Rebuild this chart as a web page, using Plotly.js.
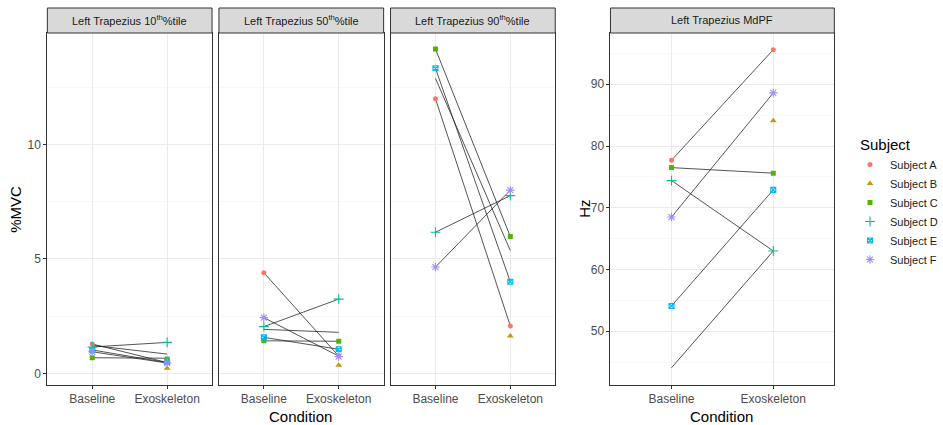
<!DOCTYPE html>
<html>
<head>
<meta charset="utf-8">
<script src="https://cdn.plot.ly/plotly-3.0.1.min.js"></script>
<style>html,body{margin:0;padding:0;background:#fff;}#chart{width:943px;height:425px;}</style>
</head>
<body>
<div id="chart"></div>
<script>
// ---------------- data ----------------
const conditions = ['Baseline', 'Exoskeleton'];
const subjects = ['Subject A', 'Subject B', 'Subject C', 'Subject D', 'Subject E', 'Subject F'];
const panelTitles = ['Left Trapezius 10<sup>th</sup>%tile', 'Left Trapezius 50<sup>th</sup>%tile',
                     'Left Trapezius 90<sup>th</sup>%tile', 'Left Trapezius MdPF'];

// point values per subject (null = no point drawn)
const p10Base = [1.28, null, 0.68, 1.15, 1.02, 0.94];
const p10Exo  = [0.47, 0.22, 0.62, 1.35, 0.50, 0.45];
const p50Base = [4.39, null, 1.42, 2.04, 1.57, 2.43];
const p50Exo  = [0.78, 0.35, 1.40, 3.24, 1.05, 0.73];
const p90Base = [11.99, null, 14.16, 6.16, 13.32, 4.64];
const p90Exo  = [2.07, 1.63, 5.97, 7.76, 4.00, 8.00];
const mdpfBase = [77.7, null, 76.5, 74.4, 54.1, 68.5];
const mdpfExo  = [95.6, 84.1, 75.6, 63.0, 72.9, 88.6];

// connecting line end values (as drawn in the figure)
const p10LineBase = [1.28, 1.22, 0.68, 1.15, 1.02, 0.94];
const p10LineExo  = [0.47, 0.84, 0.66, 1.35, 0.47, 0.45];
const p50LineBase = [4.39, 1.92, 1.42, 2.04, 1.57, 2.43];
const p50LineExo  = [0.75, 1.79, 1.40, 3.24, 1.05, 0.75];
const p90LineBase = [11.99, 12.88, 14.16, 6.16, 13.32, 4.64];
const p90LineExo  = [2.07, 5.36, 5.97, 7.76, 4.00, 8.00];
const mdpfLineBase = [77.7, 44.1, 76.5, 74.4, 54.1, 68.5];
const mdpfLineExo  = [95.6, 63.0, 75.6, 63.0, 72.9, 88.6];

// ---------------- styles ----------------
const colors = ['#F8766D', '#C49A00', '#53B400', '#00C094', '#00B6EB', '#A58AFF'];
const symbols = ['circle', 'triangle-up', 'square', 'cross-thin-open', 'square-x-open', 'asterisk-open'];
const sizes = [5, 6, 5, 7, 5, 7];

const panels = [
  {base: p10Base, exo: p10Exo, lb: p10LineBase, le: p10LineExo, xa: 'x', ya: 'y'},
  {base: p50Base, exo: p50Exo, lb: p50LineBase, le: p50LineExo, xa: 'x2', ya: 'y2'},
  {base: p90Base, exo: p90Exo, lb: p90LineBase, le: p90LineExo, xa: 'x3', ya: 'y3'},
  {base: mdpfBase, exo: mdpfExo, lb: mdpfLineBase, le: mdpfLineExo, xa: 'x4', ya: 'y4'}
];

const W = 943, H = 425;
const px = v => v / W;
const py = v => 1 - v / H;
const xDom = [[48, 215], [222, 389], [396, 563], [619, 846]];
const plotTop = 33, plotBot = 385, stripTop = 8;

const traces = [];
panels.forEach((p, pi) => {
  p.lb.forEach((b, i) => {
    traces.push({
      x: conditions, y: [b, p.le[i]], xaxis: p.xa, yaxis: p.ya,
      mode: 'lines', line: {color: 'rgba(30,30,30,0.85)', width: 0.9},
      showlegend: false, hoverinfo: 'skip'
    });
  });
});
panels.forEach((p, pi) => {
  subjects.forEach((s, i) => {
    const isOpen = symbols[i].indexOf('open') >= 0;
    traces.push({
      x: conditions, y: [p.base[i], p.exo[i]], xaxis: p.xa, yaxis: p.ya,
      mode: 'markers', name: s, legendgroup: s, showlegend: pi === 0,
      marker: {color: colors[i], symbol: symbols[i], size: sizes[i],
               line: {color: colors[i], width: isOpen ? 1.1 : 0}}
    });
  });
});

const gridC = '#EBEBEB';
function xaxis(i) {
  return {
    domain: [px(xDom[i][0]), px(xDom[i][1])], anchor: i === 0 ? 'y' : 'y' + (i + 1),
    type: 'category', categoryorder: 'array', categoryarray: conditions,
    range: [-0.6, 1.6], showgrid: true, gridcolor: gridC, gridwidth: 1,
    showline: true, mirror: true, linecolor: '#333333', linewidth: 1,
    ticks: 'outside', ticklen: 3, tickcolor: '#333333',
    tickfont: {family: 'Liberation Sans, Arial, sans-serif', size: 12, color: '#4D4D4D'},
    zeroline: false, fixedrange: true
  };
}
function yaxis(i, showLabels) {
  const left = i < 3;
  return {
    domain: [py(plotBot), py(plotTop)], anchor: i === 0 ? 'x' : 'x' + (i + 1),
    range: left ? [-0.51, 14.86] : [41.3, 98.3],
    tickmode: 'linear', tick0: 0, dtick: left ? 5 : 10,
    minor: {dtick: left ? 2.5 : 5, tick0: 0, showgrid: true, gridcolor: '#F4F4F4', gridwidth: 0.6, ticks: ''},
    showgrid: true, gridcolor: gridC, gridwidth: 1,
    showline: true, mirror: true, linecolor: '#333333', linewidth: 1,
    ticks: showLabels ? 'outside' : '', ticklen: 3, tickcolor: '#333333',
    showticklabels: showLabels,
    tickfont: {family: 'Liberation Sans, Arial, sans-serif', size: 12, color: '#4D4D4D'},
    zeroline: false, fixedrange: true
  };
}

const shapes = [];
const annotations = [];
xDom.forEach((d, i) => {
  shapes.push({type: 'rect', xref: 'paper', yref: 'paper',
    x0: px(d[0]), x1: px(d[1]), y0: py(plotTop), y1: py(stripTop),
    fillcolor: '#D9D9D9', line: {color: '#333333', width: 1}});
  annotations.push({xref: 'paper', yref: 'paper', x: px((d[0] + d[1]) / 2), y: py((plotTop + stripTop) / 2),
    xanchor: 'center', yanchor: 'middle', showarrow: false, text: panelTitles[i],
    font: {family: 'Liberation Sans, Arial, sans-serif', size: 11, color: '#1A1A1A'}});
});
const titleFont = {family: 'Liberation Sans, Arial, sans-serif', size: 15, color: '#000000'};
annotations.push({xref: 'paper', yref: 'paper', x: px(305), y: py(416), showarrow: false,
  text: 'Condition', font: titleFont, xanchor: 'center', yanchor: 'middle'});
annotations.push({xref: 'paper', yref: 'paper', x: px(732), y: py(416), showarrow: false,
  text: 'Condition', font: titleFont, xanchor: 'center', yanchor: 'middle'});
annotations.push({xref: 'paper', yref: 'paper', x: px(16), y: py(209), showarrow: false,
  text: '%MVC', font: titleFont, textangle: -90, xanchor: 'center', yanchor: 'middle'});
annotations.push({xref: 'paper', yref: 'paper', x: px(593), y: py(209), showarrow: false,
  text: 'Hz', font: titleFont, textangle: -90, xanchor: 'center', yanchor: 'middle'});
annotations.push({xref: 'paper', yref: 'paper', x: px(870), y: py(144), showarrow: false,
  text: 'Subject', font: titleFont, xanchor: 'left', yanchor: 'middle'});

const layout = {
  width: W, height: H, margin: {l: 0, r: 0, t: 0, b: 0},
  paper_bgcolor: '#FFFFFF', plot_bgcolor: '#FFFFFF',
  font: {family: 'Liberation Sans, Arial, sans-serif'},
  xaxis: xaxis(0), xaxis2: xaxis(1), xaxis3: xaxis(2), xaxis4: xaxis(3),
  yaxis: yaxis(0, true), yaxis2: yaxis(1, false), yaxis3: yaxis(2, false), yaxis4: yaxis(3, true),
  showlegend: true,
  legend: {x: px(862), y: py(150), xanchor: 'left', yanchor: 'top', tracegroupgap: 0,
    bgcolor: 'rgba(0,0,0,0)', font: {family: 'Liberation Sans, Arial, sans-serif', size: 11, color: '#1A1A1A'},
    itemwidth: 30},
  shapes: shapes, annotations: annotations
};

Plotly.newPlot('chart', traces, layout, {staticPlot: true, displayModeBar: false});
</script>
</body>
</html>
